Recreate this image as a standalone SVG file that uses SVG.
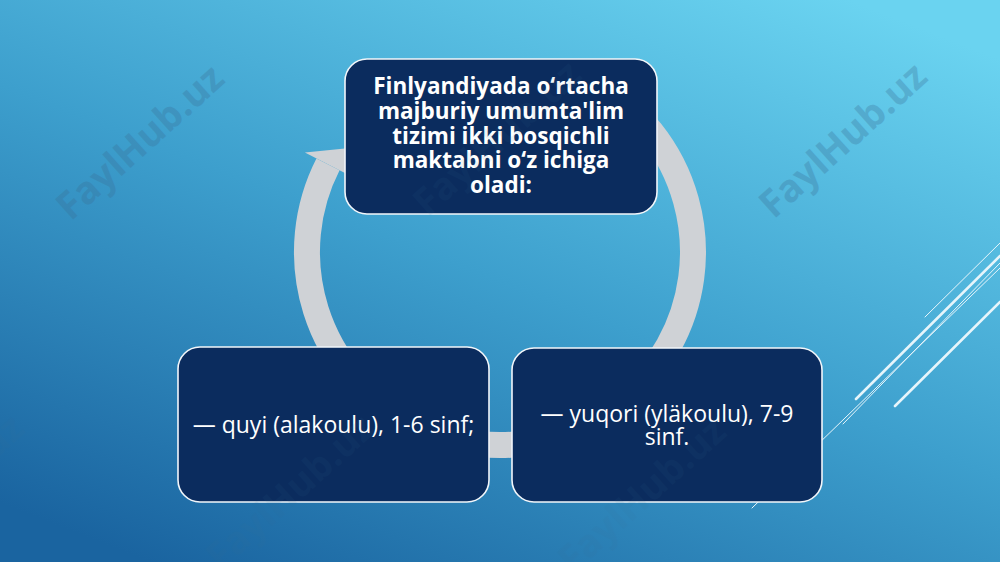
<svg xmlns="http://www.w3.org/2000/svg" width="1000" height="562" viewBox="0 0 1000 562">
  <defs>
    <linearGradient id="bg" x1="0.85" y1="0" x2="0.15" y2="1">
      <stop offset="0" stop-color="#6ad3f0"/>
      <stop offset="0.5" stop-color="#3d9fcd"/>
      <stop offset="1" stop-color="#1a64a0"/>
    </linearGradient>
    <style>
      .box { fill: #0b2c5e; stroke: #f2f6fa; stroke-width: 1.6; }
      .ring { fill: none; stroke: #cfd2d6; stroke-width: 26; }
      .head { fill: #cfd2d6; }
      .t1 { font-family: "Open Sans", "Noto Sans", "Liberation Sans", sans-serif; font-weight: 700; font-size: 22.5px; fill: #ffffff; text-anchor: middle; }
      .t2 { font-family: "Open Sans", "Noto Sans", "Liberation Sans", sans-serif; font-weight: 400; font-size: 23px; fill: #ffffff; text-anchor: middle; }
      .deco { stroke: #e6f5fb; fill: none; stroke-linecap: round; }
      .wm { font-family: "Open Sans", "Liberation Sans", sans-serif; font-weight: 700; font-size: 38px; fill: #3a6f96; text-anchor: middle; }
      .wm1 { opacity: 0.3; }
      .wm2 { opacity: 0.08; }
    </style>
  </defs>

  <rect x="0" y="0" width="1000" height="562" fill="url(#bg)"/>

  <g id="decor">
    <line class="deco" x1="925" y1="317" x2="1000" y2="243" stroke-width="1"/>
    <line class="deco" x1="856" y1="399" x2="1000" y2="256" stroke-width="2.6"/>
    <line class="deco" x1="843" y1="424" x2="1000" y2="263" stroke-width="1"/>
    <line class="deco" x1="752" y1="508" x2="1000" y2="268" stroke-width="1"/>
    <line class="deco" x1="895" y1="406" x2="1000" y2="302" stroke-width="2.6"/>
  </g>

  <g id="connectors">
    <path class="ring" d="M 596.5 84.9 A 193 193 0 1 1 328.0 164.4"/>
    <polygon class="head" points="304.9,152.6 390,144 351.2,176.2"/>
  </g>

  <g id="node-top">
    <rect class="box" x="345" y="59" width="312" height="155" rx="22"/>
    <text class="t1" x="501" y="94">Finlyandiyada o‘rtacha</text>
    <text class="t1" x="501" y="118.75">majburiy umumta'lim</text>
    <text class="t1" x="501" y="143.5">tizimi ikki bosqichli</text>
    <text class="t1" x="501" y="168.25">maktabni o‘z ichiga</text>
    <text class="t1" x="501" y="193">oladi:</text>
  </g>

  <g id="node-left">
    <rect class="box" x="178" y="347" width="311" height="155" rx="22"/>
    <text class="t2" x="333.5" y="433">— quyi (alakoulu), 1-6 sinf;</text>
  </g>

  <g id="node-right">
    <rect class="box" x="512" y="348" width="310" height="154" rx="22"/>
    <text class="t2" x="667" y="421.5">— yuqori (yläkoulu), 7-9</text>
    <text class="t2" x="667" y="445">sinf.</text>
  </g>

  <g id="watermarks">
    <text class="wm wm1" transform="translate(140,142) rotate(-42)" y="13">FaylHub.uz</text>
    <text class="wm wm2" transform="translate(497,138) rotate(-42)" y="13">FaylHub.uz</text>
    <text class="wm wm1" transform="translate(843,140) rotate(-42)" y="13">FaylHub.uz</text>
    <text class="wm wm2" transform="translate(-60,492) rotate(-42)" y="13">FaylHub.uz</text>
    <text class="wm wm2" transform="translate(290,492) rotate(-42)" y="13">FaylHub.uz</text>
    <text class="wm wm2" transform="translate(642,495) rotate(-42)" y="13">FaylHub.uz</text>
  </g>
</svg>
